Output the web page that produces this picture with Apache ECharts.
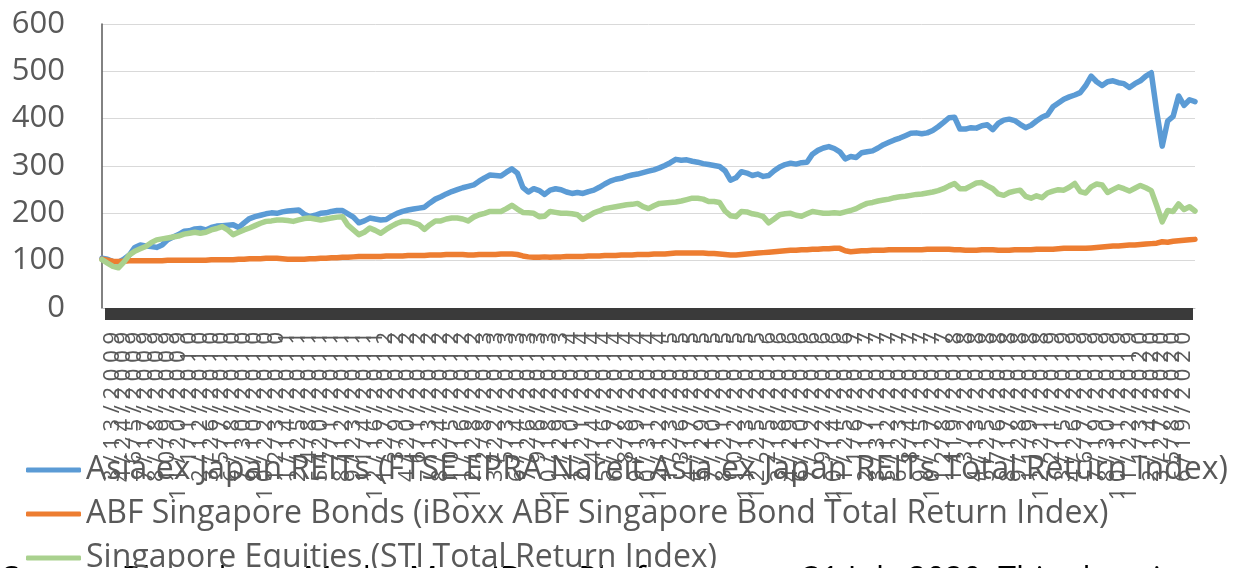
<!DOCTYPE html>
<html>
<head>
<meta charset="utf-8">
<script src="https://cdn.jsdelivr.net/npm/echarts@6/dist/echarts.min.js"></script>
<style>
  html, body { margin: 0; padding: 0; background: #fff; }
  #chart { width: 1253px; height: 568px; }
</style>
</head>
<body>
<div id="chart"></div>
<script>
// index levels, rebased to 100, one reading every 3 weeks
const reitIndex = [
  105, 103, 98, 97, 103, 112, 128, 133, 131, 130,
  128, 133, 144, 150, 155, 162, 163, 167, 168, 165,
  170, 173, 174, 175, 176, 170, 180, 189, 193, 196,
  199, 201, 200, 203, 205, 206, 207, 198, 193, 196,
  200, 201, 204, 206, 206, 199, 192, 180, 184, 190,
  188, 186, 187, 194, 200, 204, 207, 209, 211, 213,
  222, 230, 235, 241, 246, 250, 254, 257, 260, 268,
  275, 281, 280, 279, 287, 294, 285, 255, 245, 252,
  248, 240, 249, 252, 250, 245, 242, 244, 242, 246,
  249, 255, 262, 268, 272, 274, 278, 281, 283, 286,
  289, 292, 296, 301, 307, 314, 312, 313, 310, 308,
  305, 303, 301, 299, 290, 270, 275, 288, 285, 280,
  283, 278, 280, 290, 298, 303, 306, 304, 307, 308,
  325, 333, 338, 341, 337, 330, 315, 320, 318, 328,
  330, 332, 338, 345, 350, 355, 359, 364, 369, 370,
  368, 370, 375, 383, 392, 402, 403, 378, 378, 381,
  380, 385, 387, 377, 390, 397, 399, 396, 388, 381,
  386, 395, 403, 408, 425, 433, 441, 446, 450, 455,
  470, 490, 478, 470, 478, 480, 476, 474, 466, 474,
  480, 490, 497, 415, 342, 395, 405, 448, 428, 440,
  436
];
const bondIndex = [
  103, 101, 99, 98, 99, 100, 100, 100, 100, 100,
  100, 100, 101, 101, 101, 101, 101, 101, 101, 101,
  102, 102, 102, 102, 102, 103, 103, 104, 104, 104,
  105, 105, 105, 104, 103, 103, 103, 103, 104, 104,
  105, 105, 106, 106, 107, 107, 108, 109, 109, 109,
  109, 109, 110, 110, 110, 110, 111, 111, 111, 111,
  112, 112, 112, 113, 113, 113, 113, 112, 112, 113,
  113, 113, 113, 114, 114, 114, 113, 110, 108, 107,
  107, 108, 107, 108, 108, 109, 109, 109, 109, 110,
  110, 110, 111, 111, 111, 112, 112, 112, 113, 113,
  113, 114, 114, 114, 115, 116, 116, 116, 116, 116,
  116, 115, 115, 114, 113, 112, 112, 113, 114, 115,
  116, 117, 118, 119, 120, 121, 122, 122, 123, 123,
  124, 124, 125, 125, 126, 126, 121, 119, 120, 121,
  121, 122, 122, 122, 123, 123, 123, 123, 123, 123,
  123, 124, 124, 124, 124, 124, 123, 123, 122, 122,
  122, 123, 123, 123, 122, 122, 122, 123, 123, 123,
  123, 124, 124, 124, 124, 125, 126, 126, 126, 126,
  126, 127, 128, 129, 130, 131, 131, 132, 133, 133,
  134, 135, 136, 137, 140, 139, 141, 142, 143, 144,
  145
];
const equityIndex = [
  102, 95, 88, 85, 97, 112, 120, 125, 130, 138,
  144, 146, 148, 150, 152, 156, 158, 160, 158, 160,
  165, 168, 172, 165, 155, 160, 165, 169, 174, 179,
  183, 184, 186, 186, 185, 183, 186, 189, 190, 188,
  186, 188, 190, 192, 193, 175, 165, 155, 160, 169,
  164, 158, 166, 173, 179, 183, 183, 180, 176, 166,
  176, 184, 184, 188, 190, 190, 188, 184, 192, 197,
  200, 204, 204, 204, 210, 217, 209, 202, 201, 200,
  193, 194, 204, 202, 200, 200, 199, 197, 187, 194,
  201, 205, 210, 212, 214, 216, 218, 219, 221, 214,
  210, 216, 221, 222, 223, 224, 226, 229, 232, 232,
  230, 225, 225, 223, 205, 195, 193, 204, 203, 199,
  197, 193, 180, 188, 197, 199, 200, 196, 194, 199,
  204, 202, 200, 200, 201, 200, 203, 206, 210, 216,
  221, 223, 226, 228, 230, 233, 235, 236, 238, 240,
  241, 243, 245, 248, 252, 258, 263, 252, 252, 258,
  264, 265, 258, 252, 241, 238, 244, 247, 249, 236,
  232, 237, 233, 243, 247, 250, 249, 255, 263, 246,
  243, 256, 262, 260, 244, 250, 256, 252, 247, 253,
  259, 254, 248, 216, 182, 206, 204, 220, 208, 214,
  205
];

const seriesNames = [
  "Asia ex Japan REITs (FTSE EPRA Nareit Asia ex Japan REITs Total Return Index)",
  "ABF Singapore Bonds (iBoxx ABF Singapore Bond Total Return Index)",
  "Singapore Equities (STI Total Return Index)",
];
const seriesColors = ["#5B9BD5", "#ED7D31", "#A9D18E"];
const sourceNote =
  "Source: Bloomberg, MarketMap, iData Platform, as at 31 July 2020. This chart is provided with dividends reinvested for illustration";

// category dates: first reading 30 Jan 2009, then every 21 days
const dates = [];
for (let i = 0; i < reitIndex.length; i++) {
  const d = new Date(Date.UTC(2009, 0, 30 + i * 21));
  dates.push(`${d.getUTCMonth() + 1}/${d.getUTCDate()}/${d.getUTCFullYear()}`);
}

const font = '"Open Sans", "Noto Sans", sans-serif';
const chart = echarts.init(document.getElementById("chart"));

chart.setOption({
  animation: false,
  color: seriesColors,
  grid: { left: 102, top: 24, width: 1093, height: 284, containLabel: false },
  legend: {
    orient: "vertical",
    left: 26,
    top: 452,
    height: 200,
    padding: 0,
    itemWidth: 55,
    itemHeight: 5,
    itemGap: 8,
    icon: "roundRect",
    selectedMode: false,
    textStyle: { color: "#595959", fontSize: 32, lineHeight: 36, fontFamily: font },
    data: seriesNames,
  },
  xAxis: {
    type: "category",
    data: dates,
    boundaryGap: false,
    axisLine: { lineStyle: { color: "#BFBFBF", width: 1 } },
    axisTick: { interval: 0, length: 12, lineStyle: { color: "#3A3A3A", width: 6 } },
    axisLabel: {
      interval: 1,
      rotate: 90,
      margin: 24,
      color: "#595959",
      fontSize: 22,
      fontFamily: font,
      formatter: (v) => v.split("").join(" "),
    },
    splitLine: { show: false },
  },
  yAxis: {
    type: "value",
    min: 0,
    max: 600,
    interval: 100,
    axisLine: { show: true, lineStyle: { color: "#595959", width: 1.5 } },
    axisTick: { show: false },
    axisLabel: { color: "#595959", fontSize: 31, fontFamily: font, margin: 37 },
    splitLine: { lineStyle: { color: "#D9D9D9", width: 1 } },
  },
  series: [reitIndex, bondIndex, equityIndex].map((values, idx) => ({
    name: seriesNames[idx],
    type: "line",
    data: values,
    showSymbol: false,
    symbol: "none",
    lineStyle: { width: 5.5, color: seriesColors[idx], join: "round", cap: "round" },
  })),
  graphic: [
    {
      type: "text",
      left: 2,
      top: 565,
      style: { text: sourceNote, font: `32px ${font}`, fill: "#000000" },
    },
  ],
});
</script>
</body>
</html>
